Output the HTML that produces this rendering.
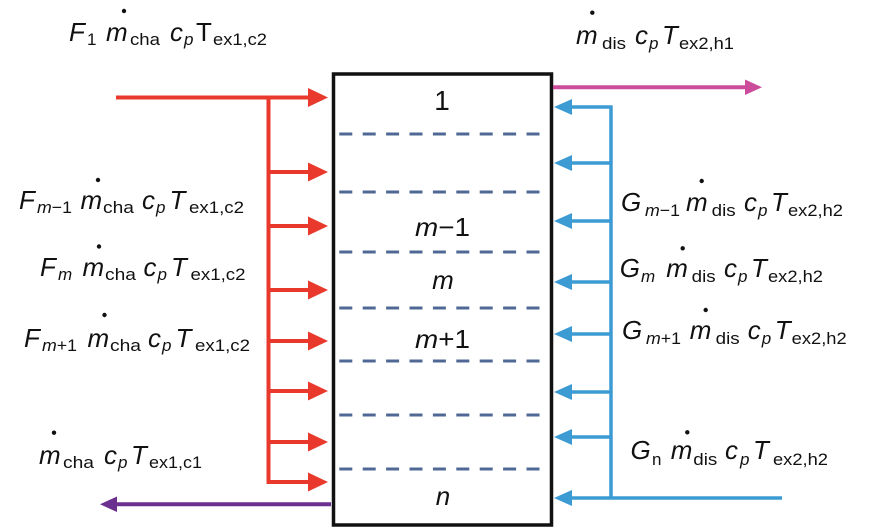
<!DOCTYPE html>
<html><head><meta charset="utf-8">
<style>
html,body{margin:0;padding:0;background:#fff;}
svg{display:block;}
text{font-family:"Liberation Sans",Arial,sans-serif;fill:#111;}
.M{font-size:26px;font-style:italic;}
.U{font-size:26px;}
.s{font-size:17px;}
.si{font-size:17px;font-style:italic;}
.B{font-size:26px;}
</style></head>
<body>
<svg width="883" height="531" viewBox="0 0 883 531" xmlns="http://www.w3.org/2000/svg">
<rect x="0" y="0" width="883" height="531" fill="#fff"/>

<!-- Box -->
<rect x="333.5" y="74" width="218" height="451" fill="#fff" stroke="#111" stroke-width="3.5"/>

<!-- Dashed separators -->
<g stroke="#506895" stroke-width="3" stroke-dasharray="13 10.4">
<line x1="339.3" y1="134" x2="542" y2="134"/>
<line x1="339.3" y1="192" x2="542" y2="192"/>
<line x1="339.3" y1="252" x2="542" y2="252"/>
<line x1="339.3" y1="308" x2="542" y2="308"/>
<line x1="339.3" y1="361" x2="542" y2="361"/>
<line x1="339.3" y1="415" x2="542" y2="415"/>
<line x1="339.3" y1="469" x2="542" y2="469"/>
</g>

<!-- Box numbers -->
<text x="442" y="110" text-anchor="middle" style="font-size:28px">1</text>
<text x="415" y="236" class="B" textLength="55" lengthAdjust="spacingAndGlyphs"><tspan font-style="italic">m</tspan>−1</text>
<text x="443" y="289" class="B" text-anchor="middle" style="font-style:italic">m</text>
<text x="415" y="348" class="B" textLength="55" lengthAdjust="spacingAndGlyphs"><tspan font-style="italic">m</tspan>+1</text>
<text x="443" y="505" class="B" text-anchor="middle" style="font-style:italic">n</text>

<!-- Red inputs -->
<g stroke="#e8392c" stroke-width="4" fill="none">
<line x1="116" y1="97.5" x2="310" y2="97.5"/>
<line x1="268.5" y1="95.5" x2="268.5" y2="484"/>
<line x1="268.5" y1="172" x2="310" y2="172"/>
<line x1="268.5" y1="226" x2="310" y2="226"/>
<line x1="268.5" y1="290" x2="310" y2="290"/>
<line x1="268.5" y1="341" x2="310" y2="341"/>
<line x1="268.5" y1="391" x2="310" y2="391"/>
<line x1="268.5" y1="442" x2="310" y2="442"/>
<line x1="266.5" y1="482" x2="310" y2="482"/>
</g>
<g fill="#e8392c">
<polygon points="328,97.5 308,88 308,107"/>
<polygon points="328,172 308,162.5 308,181.5"/>
<polygon points="328,226 308,216.5 308,235.5"/>
<polygon points="328,290 308,280.5 308,299.5"/>
<polygon points="328,341 308,331.5 308,350.5"/>
<polygon points="328,391 308,381.5 308,400.5"/>
<polygon points="328,442 308,432.5 308,451.5"/>
<polygon points="328,482 308,472.5 308,491.5"/>
</g>

<!-- Blue inputs -->
<g stroke="#3d9bd4" stroke-width="3.5" fill="none">
<line x1="611" y1="105.5" x2="611" y2="498"/>
<line x1="568" y1="107" x2="612.5" y2="107"/>
<line x1="568" y1="163" x2="611" y2="163"/>
<line x1="568" y1="221" x2="611" y2="221"/>
<line x1="568" y1="282" x2="611" y2="282"/>
<line x1="568" y1="334" x2="611" y2="334"/>
<line x1="568" y1="392" x2="611" y2="392"/>
<line x1="568" y1="437" x2="611" y2="437"/>
<line x1="568" y1="498" x2="782" y2="498"/>
</g>
<g fill="#3d9bd4">
<polygon points="554,107 572,99 572,115"/>
<polygon points="554,163 572,155 572,171"/>
<polygon points="554,221 572,213 572,229"/>
<polygon points="554,282 572,274 572,290"/>
<polygon points="554,334 572,326 572,342"/>
<polygon points="554,392 572,384 572,400"/>
<polygon points="554,437 572,429 572,445"/>
<polygon points="554,498 572,490 572,506"/>
</g>

<!-- Magenta output -->
<line x1="553" y1="87.3" x2="747" y2="87.3" stroke="#cc4c9c" stroke-width="4"/>
<polygon points="762,87.3 745,79.5 745,95" fill="#cc4c9c"/>

<!-- Purple output -->
<line x1="331" y1="504.3" x2="114" y2="504.3" stroke="#6b2f90" stroke-width="4"/>
<polygon points="100,504.3 117,496.5 117,512" fill="#6b2f90"/>

<!-- ===== Left labels ===== -->
<!-- F1 (B=41) -->
<text x="69" y="41" class="M">F</text>
<text x="87" y="45" class="s">1</text>
<text x="106" y="41" class="M">m</text>
<circle cx="124" cy="11" r="2.2" fill="#111"/>
<text x="130" y="45" class="s" textLength="30" lengthAdjust="spacingAndGlyphs">cha</text>
<text x="170" y="41" class="M">c</text>
<text x="184" y="45" class="si">p</text>
<text x="196" y="41" class="U">T</text>
<text x="213" y="45" class="s" textLength="54" lengthAdjust="spacingAndGlyphs">ex1,c2</text>

<!-- Fm-1 (B=209) -->
<text x="19" y="209" class="M">F</text>
<text x="37" y="213" class="s" textLength="35" lengthAdjust="spacingAndGlyphs"><tspan font-style="italic">m</tspan>−1</text>
<text x="80.5" y="209" class="M">m</text>
<circle cx="98" cy="180" r="2.2" fill="#111"/>
<text x="103" y="213" class="s" textLength="31" lengthAdjust="spacingAndGlyphs">cha</text>
<text x="142" y="209" class="M">c</text>
<text x="156" y="213" class="si">p</text>
<text x="169.5" y="209" class="M">T</text>
<text x="189" y="213" class="s" textLength="55" lengthAdjust="spacingAndGlyphs">ex1,c2</text>

<!-- Fm (B=276) -->
<text x="40" y="276" class="M">F</text>
<text x="58" y="280" class="si">m</text>
<text x="82.5" y="276" class="M">m</text>
<circle cx="99" cy="246.5" r="2.2" fill="#111"/>
<text x="105" y="280" class="s" textLength="31" lengthAdjust="spacingAndGlyphs">cha</text>
<text x="143.5" y="276" class="M">c</text>
<text x="157.5" y="280" class="si">p</text>
<text x="171" y="276" class="M">T</text>
<text x="190.5" y="280" class="s" textLength="55" lengthAdjust="spacingAndGlyphs">ex1,c2</text>

<!-- Fm+1 (B=347) -->
<text x="24" y="347" class="M">F</text>
<text x="42" y="351" class="s" textLength="35" lengthAdjust="spacingAndGlyphs"><tspan font-style="italic">m</tspan>+1</text>
<text x="87.5" y="347" class="M">m</text>
<circle cx="104.5" cy="315" r="2.2" fill="#111"/>
<text x="110" y="351" class="s" textLength="31" lengthAdjust="spacingAndGlyphs">cha</text>
<text x="148" y="347" class="M">c</text>
<text x="162" y="351" class="si">p</text>
<text x="175.5" y="347" class="M">T</text>
<text x="195" y="351" class="s" textLength="55" lengthAdjust="spacingAndGlyphs">ex1,c2</text>

<!-- mcha bottom (B=464) -->
<text x="39" y="464" class="M">m</text>
<circle cx="54" cy="432.7" r="2.2" fill="#111"/>
<text x="63" y="468" class="s" textLength="31" lengthAdjust="spacingAndGlyphs">cha</text>
<text x="104" y="464" class="M">c</text>
<text x="118" y="468" class="si">p</text>
<text x="131" y="464" class="M">T</text>
<text x="149" y="468" class="s" textLength="53" lengthAdjust="spacingAndGlyphs">ex1,c1</text>

<!-- ===== Right labels ===== -->
<!-- mdis top (B=44) -->
<text x="576" y="44" class="M">m</text>
<circle cx="592.3" cy="12.7" r="2.2" fill="#111"/>
<text x="602" y="49" class="s" textLength="24" lengthAdjust="spacingAndGlyphs">dis</text>
<text x="635" y="44" class="M">c</text>
<text x="649" y="49" class="si">p</text>
<text x="662" y="44" class="M">T</text>
<text x="679" y="49" class="s" textLength="55" lengthAdjust="spacingAndGlyphs">ex2,h1</text>

<!-- Gm-1 (B=211) -->
<text x="621" y="211" class="M">G</text>
<text x="645" y="216" class="s" textLength="35" lengthAdjust="spacingAndGlyphs"><tspan font-style="italic">m</tspan>−1</text>
<text x="686" y="211" class="M">m</text>
<circle cx="701.7" cy="181" r="2.2" fill="#111"/>
<text x="711.7" y="216" class="s" textLength="24" lengthAdjust="spacingAndGlyphs">dis</text>
<text x="744" y="211" class="M">c</text>
<text x="758" y="216" class="si">p</text>
<text x="771" y="211" class="M">T</text>
<text x="788" y="216" class="s" textLength="55" lengthAdjust="spacingAndGlyphs">ex2,h2</text>

<!-- Gm (B=277) -->
<text x="619.7" y="277" class="M">G</text>
<text x="641" y="282" class="si">m</text>
<text x="666.3" y="277" class="M">m</text>
<circle cx="682.7" cy="248.3" r="2.2" fill="#111"/>
<text x="691.7" y="282" class="s" textLength="24" lengthAdjust="spacingAndGlyphs">dis</text>
<text x="724" y="277" class="M">c</text>
<text x="738" y="282" class="si">p</text>
<text x="751" y="277" class="M">T</text>
<text x="768" y="282" class="s" textLength="55" lengthAdjust="spacingAndGlyphs">ex2,h2</text>

<!-- Gm+1 (B=339) -->
<text x="622" y="339" class="M">G</text>
<text x="646" y="344" class="s" textLength="35" lengthAdjust="spacingAndGlyphs"><tspan font-style="italic">m</tspan>+1</text>
<text x="689.7" y="339" class="M">m</text>
<circle cx="705.7" cy="310" r="2.2" fill="#111"/>
<text x="715.7" y="344" class="s" textLength="24" lengthAdjust="spacingAndGlyphs">dis</text>
<text x="747.7" y="339" class="M">c</text>
<text x="761.7" y="344" class="si">p</text>
<text x="774.7" y="339" class="M">T</text>
<text x="791.7" y="344" class="s" textLength="55" lengthAdjust="spacingAndGlyphs">ex2,h2</text>

<!-- Gn (B=459) -->
<text x="630.5" y="459" class="M">G</text>
<text x="652" y="465" class="s">n</text>
<text x="670.7" y="459" class="M">m</text>
<circle cx="687.3" cy="432.3" r="2.2" fill="#111"/>
<text x="693.3" y="465" class="s" textLength="24" lengthAdjust="spacingAndGlyphs">dis</text>
<text x="725" y="459" class="M">c</text>
<text x="740" y="465" class="si">p</text>
<text x="753" y="459" class="M">T</text>
<text x="773" y="465" class="s" textLength="55" lengthAdjust="spacingAndGlyphs">ex2,h2</text>
</svg>
</body></html>
